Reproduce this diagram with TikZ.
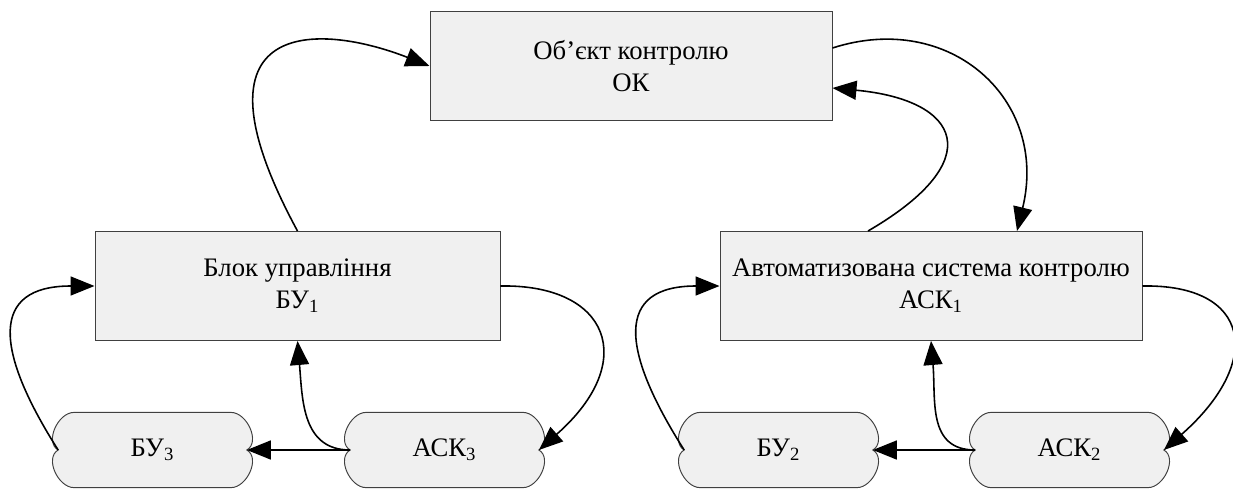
\documentclass[tikz,border=0pt]{standalone}
\usepackage{fontspec}
\setmainfont{Liberation Serif}
\usetikzlibrary{arrows.meta}
\usetikzlibrary{backgrounds}

\begin{document}
\begin{tikzpicture}[
  txt/.style={font=\fontsize{15.2}{18.2}\selectfont,align=center},
  blk/.style={txt,draw=black!75,line width=0.55pt,fill=black!6,minimum height=2.18cm},
  blob/.style={txt,minimum width=3.76cm,minimum height=1.49cm},
  blobline/.style={draw=black!75,line width=0.55pt,fill=black!6},
  conn/.style={line width=0.9pt,-{Triangle[length=0.48cm,width=0.38cm]}}]
\useasboundingbox (0,0) rectangle (24.66,9.78);
\node[blk,minimum width=8.04cm] (ok) at (12.62,8.46) {Об’єкт контролю\\ОК};
\node[blk,minimum width=8.1cm] (bu1) at (5.95,4.06) {Блок управління\\БУ\textsubscript{1}};
\node[blk,minimum width=8.44cm] (ask1) at (18.62,4.06) {Автоматизована система контролю\\АСК\textsubscript{1}};
\node[blob] (bu3) at (3.05,0.78) {БУ\textsubscript{3}};
\node[blob] (ask3) at (8.89,0.78) {АСК\textsubscript{3}};
\node[blob] (bu2) at (15.57,0.78) {БУ\textsubscript{2}};
\node[blob] (ask2) at (21.39,0.78) {АСК\textsubscript{2}};
\begin{scope}[on background layer]
\foreach \n in {bu3,ask3,bu2,ask2}
  \filldraw[blobline] ([xshift=-1.57cm]\n.north) -- ([xshift=1.57cm]\n.north) to[out=0,in=30] (\n.east) to[out=-30,in=0] ([xshift=1.57cm]\n.south) -- ([xshift=-1.57cm]\n.south) to[out=180,in=-150] (\n.west) to[out=150,in=180] cycle;
\end{scope}

\draw[conn] (bu1.north) .. controls +(-2.34,4.32) and +(-2.2,0.86) .. (ok.west);
\draw[conn] ([yshift=0.36cm]ok.east) .. controls +(2.36,0.76) and +(0.64,2.62) .. ([xshift=1.72cm]ask1.north);
\draw[conn] ([xshift=-1.26cm]ask1.north) .. controls +(2.44,1.42) and +(2.56,-0.24) .. ([yshift=-0.44cm]ok.east);
\draw[conn] (ask1.east) .. controls +(2.16,0.04) and +(2.02,1.78) .. (ask2.east);
\draw[conn] (bu1.east) .. controls +(2.16,0.04) and +(2.02,1.78) .. (ask3.east);
\draw[conn] (ask3.west) -- (bu3.east);
\draw[conn] (ask2.west) -- (bu2.east);
\draw[conn] (ask3.west) .. controls +(-0.96,0) and +(0.1,-1.18) .. (bu1.south);
\draw[conn] (ask2.west) .. controls +(-0.96,0) and +(0.1,-1.18) .. (ask1.south);
\draw[conn] (bu3.west) .. controls +(-1.27,2) and +(-2.1,0) .. (bu1.west);
\draw[conn] (bu2.west) .. controls +(-1.27,2) and +(-2.1,0) .. (ask1.west);
\end{tikzpicture}
\end{document}
